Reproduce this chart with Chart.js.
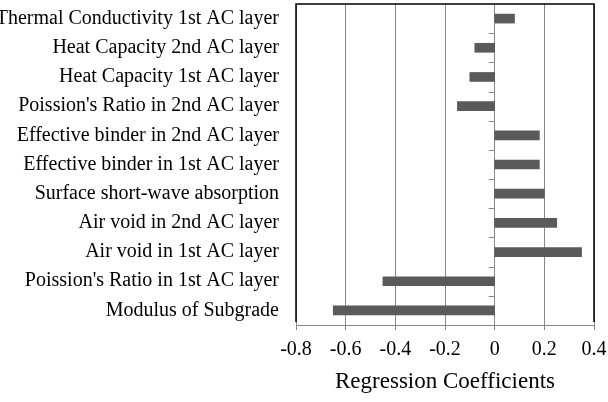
<!DOCTYPE html>
<html>
<head>
<meta charset="utf-8">
<script src="https://cdn.jsdelivr.net/npm/chart.js@4"></script>
<style>
  html, body { margin: 0; padding: 0; background: #fff; }
  #wrap { width: 608px; height: 402px; }
</style>
</head>
<body>
<div id="wrap"><canvas id="regChart"></canvas></div>
<script>
// data
const categories = [
  'Thermal Conductivity 1st AC layer',
  'Heat Capacity 2nd AC layer',
  'Heat Capacity 1st AC layer',
  "Poission's Ratio in 2nd AC layer",
  'Effective binder in 2nd AC layer',
  'Effective binder in 1st AC layer',
  'Surface short-wave absorption',
  'Air void in 2nd AC layer',
  'Air void in 1st AC layer',
  "Poission's Ratio in 1st AC layer",
  'Modulus of Subgrade'
];
const coefficients = [0.08, -0.08, -0.10, -0.15, 0.18, 0.18, 0.20, 0.25, 0.35, -0.45, -0.65];
const tickLabels = ['-0.8', '-0.6', '-0.4', '-0.2', '0', '0.2', '0.4'];

const serif = 'Liberation Serif';

// black frame on left/top/right plus little ticks along the zero line
const framePlugin = {
  id: 'frame',
  afterDraw(chart) {
    const ctx = chart.ctx;
    const a = chart.chartArea;
    const xs = chart.scales.x, ys = chart.scales.y;
    ctx.save();
    ctx.strokeStyle = '#888';
    ctx.lineWidth = 1;
    const x0 = xs.getPixelForValue(0);
    for (let i = 0; i < categories.length - 1; i++) {
      const y = Math.round(ys.getPixelForValue(i + 0.5)) + 0.5;
      ctx.beginPath();
      ctx.moveTo(x0 - 6, y);
      ctx.lineTo(x0, y);
      ctx.stroke();
    }
    ctx.strokeStyle = '#000';
    ctx.lineWidth = 1.5;
    ctx.beginPath();
    ctx.moveTo(a.left, a.bottom - 3);
    ctx.lineTo(a.left, a.top);
    ctx.lineTo(a.right, a.top);
    ctx.lineTo(a.right, a.bottom - 3);
    ctx.stroke();
    ctx.restore();
  }
};

const ctx = document.getElementById('regChart').getContext('2d');
new Chart(ctx, {
  type: 'bar',
  data: {
    labels: categories,
    datasets: [{
      data: coefficients,
      backgroundColor: '#5a5a5a',
      barThickness: 9
    }]
  },
  options: {
    indexAxis: 'y',
    responsive: true,
    maintainAspectRatio: false,
    animation: false,
    layout: { padding: { top: 4, right: 14, left: 0, bottom: 0 } },
    plugins: {
      legend: { display: false },
      tooltip: { enabled: false }
    },
    scales: {
      x: {
        min: -0.8,
        max: 0.4,
        ticks: {
          stepSize: 0.2,
          color: '#000',
          padding: 8,
          font: { family: serif, size: 20 },
          callback: function(value, index) { return tickLabels[index]; }
        },
        grid: { color: '#888', lineWidth: 1, tickLength: 5 },
        border: { color: '#888', width: 1 },
        title: {
          display: true,
          text: 'Regression Coefficients',
          color: '#000',
          font: { family: serif, size: 23 },
          padding: { top: 2, bottom: 6 }
        },
        afterFit: function(scale) {
          scale.height = 77;
          scale.paddingLeft = 0;
          scale.paddingRight = 0;
        }
      },
      y: {
        ticks: {
          color: '#000',
          padding: 17,
          autoSkip: false,
          font: { family: serif, size: 20 }
        },
        grid: { display: false, drawTicks: false },
        border: { display: false },
        afterFit: function(scale) {
          scale.width = 296;
          scale.paddingTop = 0;
          scale.paddingBottom = 0;
        }
      }
    }
  },
  plugins: [framePlugin]
});
</script>
</body>
</html>
